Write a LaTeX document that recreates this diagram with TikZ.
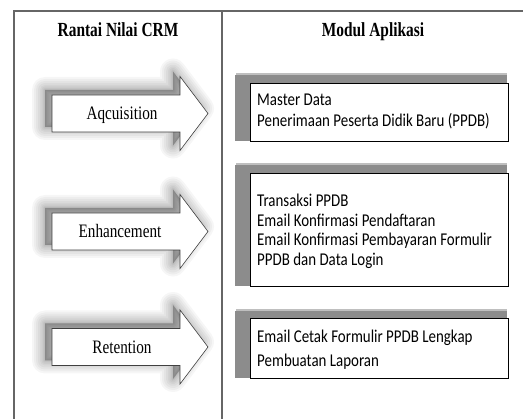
\documentclass[tikz,border=0pt]{standalone}
\usepackage{fontspec}
\setmainfont{Liberation Serif}
\newfontfamily\hdrfont[FakeStretch=0.77]{Liberation Serif}
\newfontfamily\lblfont[FakeStretch=0.8]{Liberation Serif}
\newfontfamily\boxfont[FakeStretch=0.83]{Carlito}
\def\arrowpath#1{(52,#1-18.5) -- (180,#1-18.5) -- (180,#1-37) -- (208,#1) -- (180,#1+37) -- (180,#1+18.5) -- (52,#1+18.5) -- cycle}
\tikzset{
  frame/.style={draw=black!60, line width=1.4pt},
  hdr/.style={font=\hdrfont\bfseries\fontsize{20}{24}\selectfont, anchor=base, inner sep=0pt},
  lbl/.style={font=\lblfont\fontsize{19}{23}\selectfont, anchor=base, inner sep=0pt},
  itm/.style={font=\boxfont\fontsize{18}{22}\selectfont, anchor=base west, inner sep=0pt},
  modbox/.style={draw=black, line width=0.8pt, fill=white, anchor=north west, minimum width=258pt, inner sep=0pt},
  boxshadow/.style={fill=black!45},
  arrowshape/.style={draw=black!75, line width=0.6pt, fill=white, line join=miter},
  glow/.style={fill=black, draw=black, opacity=0.035, line join=round}
}
\begin{document}
\begin{tikzpicture}[x=1pt,y=-1pt]
\useasboundingbox (0,0) rectangle (523,419);
\fill[white] (0,0) rectangle (523,419);
% frame
\draw[frame] (14,419) -- (14,11) -- (523,11);
\draw[frame] (222,11) -- (222,419);
% headers
\node[hdr] (h1) at (118,37) {Rantai Nilai CRM};
\node[hdr] (h2) at (373,37) {Modul Aplikasi};
% arrows
\foreach \c in {113.5,231.5,347} {
  \foreach \w in {26,22,18,14,10,7,4,2} {
    \filldraw[glow, line width=\w pt, shift={(-7,-5)}] \arrowpath{\c};
  }
  \filldraw[arrowshape] \arrowpath{\c};
}
\node[lbl] (a1) at (122,120) {Aqcuisition};
\node[lbl] (a2) at (120,238) {Enhancement};
\node[lbl] (a3) at (122,354) {Retention};
% module boxes
\fill[black!25] (236,73) rectangle (507,141);
\fill[boxshadow] (235,75) rectangle (507,141);
\node[modbox, minimum height=58pt] (b1) at (250,83) {};
\node[itm] (t11) at (257,106) {Master Data};
\node[itm] (t12) at (257,127) {Penerimaan Peserta Didik Baru (PPDB)};
\fill[black!25] (236,163) rectangle (507,286);
\fill[boxshadow] (235,165) rectangle (507,286);
\node[modbox, minimum height=113pt] (b2) at (250,173) {};
\node[itm] (t21) at (257,207) {Transaksi PPDB};
\node[itm] (t22) at (257,226.5) {Email Konfirmasi Pendaftaran};
\node[itm] (t23) at (257,246) {Email Konfirmasi Pembayaran Formulir};
\node[itm] (t24) at (257,265.5) {PPDB dan Data Login};
\fill[black!25] (236,309) rectangle (507,378);
\fill[boxshadow] (235,311) rectangle (507,378);
\node[modbox, minimum height=60pt] (b3) at (250,318) {};
\node[itm] (t31) at (257,343) {Email Cetak Formulir PPDB Lengkap};
\node[itm] (t32) at (257,367) {Pembuatan Laporan};
\end{tikzpicture}
\end{document}
